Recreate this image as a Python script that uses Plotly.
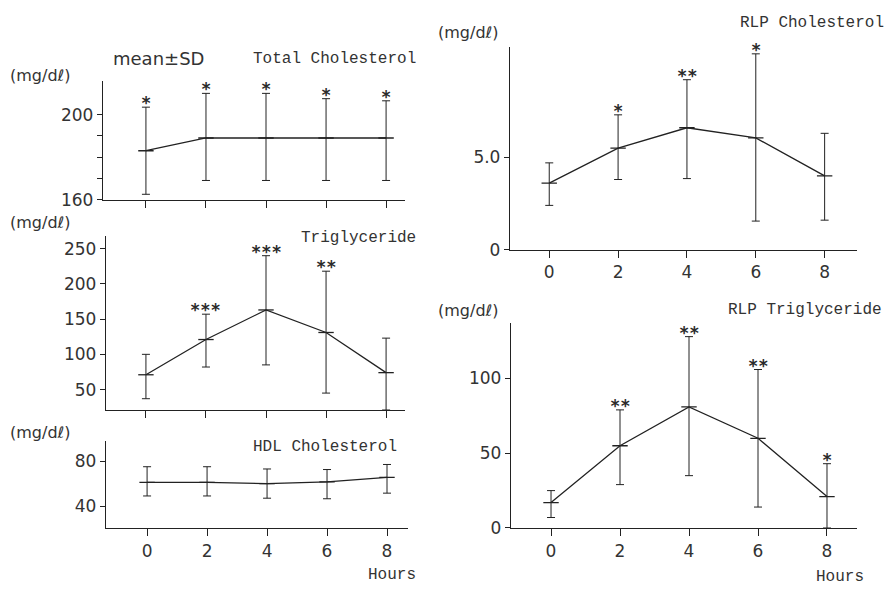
import plotly.graph_objects as go

W, H = 890, 595

hours = [0, 2, 4, 6, 8]
hour_labels = ["0", "2", "4", "6", "8"]

tc_mean = [183, 189, 189, 189, 189]
tc_plus = [20.5, 21, 21, 18.5, 17.5]
tc_minus = [20.5, 20, 20, 20, 20]
tc_stars = ["*", "*", "*", "*", "*"]

tg_mean = [71, 121, 163, 131, 74]
tg_plus = [29, 36, 77, 87, 49]
tg_minus = [34, 39, 78, 86, 53]
tg_stars = ["", "***", "***", "**", ""]

hdl_mean = [61, 61, 60, 61.5, 65.5]
hdl_plus = [14, 14, 13, 11, 11.5]
hdl_minus = [12, 12, 13, 15, 14]
hdl_stars = ["", "", "", "", ""]

rlpc_mean = [3.6, 5.5, 6.6, 6.05, 4.0]
rlpc_plus = [1.1, 1.8, 2.6, 4.55, 2.3]
rlpc_minus = [1.2, 1.7, 2.75, 4.5, 2.4]
rlpc_stars = ["", "*", "**", "*", ""]

rlptg_mean = [17, 55, 81, 60, 21]
rlptg_plus = [8, 24, 47, 46, 22]
rlptg_minus = [10, 26, 46, 46, 21]
rlptg_stars = ["", "**", "**", "**", "*"]

INK = "#222222"
TXT = "#333333"
SANS = "DejaVu Sans"
MONO = "Liberation Mono"


def px_x(p):
    return p / W


def px_y(p):
    return 1 - p / H


panels = [
    dict(mean=tc_mean, plus=tc_plus, minus=tc_minus, stars=tc_stars,
         xd=(103, 405), yd=(82, 203), xr=[-1.43, 8.63], yr=[160, 216],
         ytick=dict(tickvals=[160, 200], ticktext=["160", "200"],
                    minor=dict(tickvals=[170, 180, 190], ticks="outside", ticklen=5, tickcolor=INK)),
         xlabels=False),
    dict(mean=tg_mean, plus=tg_plus, minus=tg_minus, stars=tg_stars,
         xd=(106, 405), yd=(240, 417), xr=[-1.33, 8.63], yr=[21, 268],
         ytick=dict(tickvals=[50, 100, 150, 200, 250]),
         xlabels=False),
    dict(mean=hdl_mean, plus=hdl_plus, minus=hdl_minus, stars=hdl_stars,
         xd=(106, 408), yd=(449, 537), xr=[-1.37, 8.7], yr=[20.5, 97.5],
         ytick=dict(tickvals=[40, 80]),
         xlabels=True),
    dict(mean=rlpc_mean, plus=rlpc_plus, minus=rlpc_minus, stars=rlpc_stars,
         xd=(510, 857), yd=(48, 254), xr=[-1.14, 8.94], yr=[0, 10.96],
         ytick=dict(tickvals=[0, 5], ticktext=["0", "5.0"]),
         xlabels=True),
    dict(mean=rlptg_mean, plus=rlptg_plus, minus=rlptg_minus, stars=rlptg_stars,
         xd=(511, 857), yd=(329, 537), xr=[-1.16, 8.87], yr=[0, 136.8],
         ytick=dict(tickvals=[0, 50, 100]),
         xlabels=True),
]

fig = go.Figure()
annotations = []
layout = {}

for i, p in enumerate(panels, start=1):
    xa = "x" if i == 1 else f"x{i}"
    ya = "y" if i == 1 else f"y{i}"
    xkey = "xaxis" if i == 1 else f"xaxis{i}"
    ykey = "yaxis" if i == 1 else f"yaxis{i}"
    fig.add_trace(go.Scatter(
        x=hours, y=p["mean"], mode="lines+markers",
        line=dict(color=INK, width=1.3),
        marker=dict(symbol="line-ew-open", size=11, line=dict(color=INK, width=1.3)),
        error_y=dict(type="data", symmetric=False, array=p["plus"], arrayminus=p["minus"],
                     color=INK, thickness=1, width=4),
        xaxis=xa, yaxis=ya, showlegend=False, hoverinfo="skip"))
    layout[xkey] = dict(
        domain=[px_x(p["xd"][0]), px_x(p["xd"][1])], range=p["xr"], anchor=ya,
        showline=True, linecolor=INK, linewidth=1.3, showgrid=False, zeroline=False,
        tickvals=hours, ticktext=hour_labels, ticks="outside", ticklen=7, tickcolor=INK,
        showticklabels=p["xlabels"], tickfont=dict(family=SANS, size=17, color=TXT))
    yk = dict(
        domain=[px_y(p["yd"][1]), px_y(p["yd"][0])], range=p["yr"], anchor=xa,
        showline=True, linecolor=INK, linewidth=1.3, showgrid=False, zeroline=False,
        ticks="outside", ticklen=5, tickcolor=INK,
        tickfont=dict(family=SANS, size=17, color=TXT))
    yk.update(p["ytick"])
    layout[ykey] = yk
    for h, m, up, s in zip(hours, p["mean"], p["plus"], p["stars"]):
        if s:
            annotations.append(dict(
                x=h, y=m + up, xref=xa, yref=ya, text="<b>" + s + "</b>", showarrow=False,
                xanchor="center", yanchor="middle", yshift=4,
                font=dict(family="DejaVu Sans Mono", size=17, color="#2a2a2a")))


def add_text(text, x, y, xanchor, font, size):
    annotations.append(dict(
        x=px_x(x), y=px_y(y), xref="paper", yref="paper", text=text, showarrow=False,
        xanchor=xanchor, yanchor="middle", font=dict(family=font, size=size, color=TXT)))


unit = "(mg/dℓ)"
add_text("mean±SD", 111, 60, "left", SANS, 18)
add_text("Total Cholesterol", 418, 60, "right", MONO, 16)
add_text(unit, 8, 77, "left", SANS, 16)
add_text("Triglyceride", 418, 242, "right", MONO, 16)
add_text(unit, 8, 226, "left", SANS, 16)
add_text("HDL Cholesterol", 399, 455, "right", MONO, 16)
add_text(unit, 8, 440, "left", SANS, 16)
add_text("Hours", 418, 585, "right", MONO, 16)
add_text("RLP Cholesterol", 886, 23, "right", MONO, 16)
add_text(unit, 436, 33, "left", SANS, 16)
add_text("RLP Triglyceride", 884, 315, "right", MONO, 16)
add_text(unit, 436, 316, "left", SANS, 16)
add_text("Hours", 866, 587, "right", MONO, 16)

fig.update_layout(
    width=W, height=H, margin=dict(l=0, r=0, t=0, b=0),
    paper_bgcolor="white", plot_bgcolor="white",
    annotations=annotations, **layout)

fig.write_html("out.html")
